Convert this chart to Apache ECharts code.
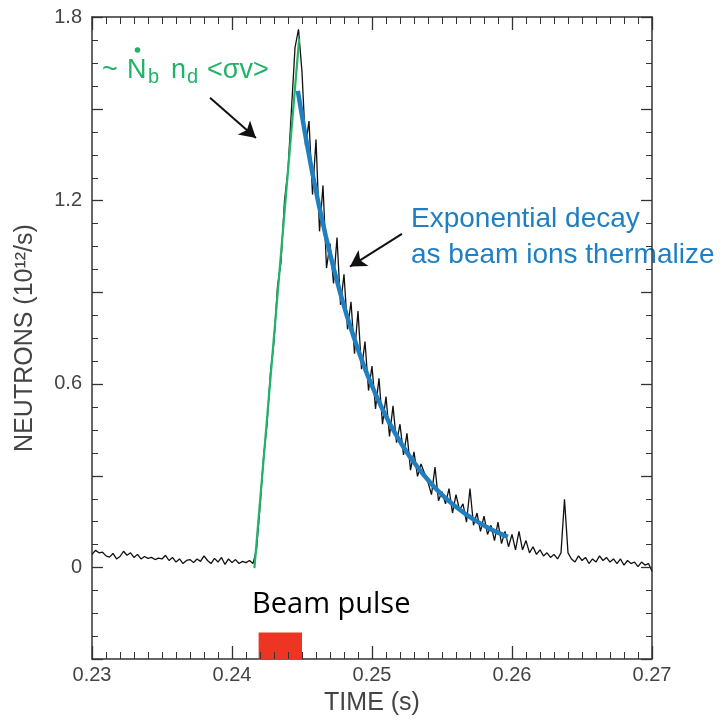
<!DOCTYPE html>
<html>
<head>
<meta charset="utf-8">
<script src="https://cdn.jsdelivr.net/npm/echarts@6/dist/echarts.min.js"></script>
<style>
html,body{margin:0;padding:0;background:#fff;}
#chart{width:726px;height:721px;}
</style>
</head>
<body>
<div id="chart"></div>
<script>
// ---- data ----
const sampleStart = 0.23;
const sampleStep = 0.00025;
const neutronRate = [
  0.045,0.058,0.050,0.052,0.040,0.036,0.048,0.030,0.038,0.055,
  0.042,0.050,0.035,0.045,0.030,0.038,0.032,0.035,0.028,0.033,
  0.030,0.042,0.025,0.035,0.020,0.030,0.015,0.025,0.028,0.018,
  0.030,0.022,0.040,0.025,0.015,0.032,0.020,0.035,0.012,0.030,
  0.018,0.028,0.015,0.022,0.018,0.025,0.015,0.06,0.20,0.36,
  0.47,0.64,0.74,0.92,1.00,1.20,1.30,1.50,1.70,1.76,
  1.62,1.38,1.46,1.22,1.40,1.10,1.25,0.98,1.06,0.93,
  1.08,0.86,0.96,0.78,0.87,0.70,0.84,0.65,0.74,0.58,
  0.66,0.52,0.62,0.47,0.56,0.43,0.53,0.41,0.47,0.37,
  0.44,0.32,0.38,0.30,0.34,0.31,0.28,0.24,0.33,0.22,
  0.25,0.21,0.26,0.18,0.24,0.19,0.21,0.15,0.26,0.14,
  0.18,0.12,0.17,0.11,0.14,0.09,0.15,0.08,0.12,0.07,
  0.11,0.06,0.12,0.06,0.09,0.05,0.07,0.045,0.06,0.04,
  0.05,0.035,0.045,0.03,0.05,0.225,0.05,0.03,0.02,0.04,
  0.025,0.035,0.015,0.03,0.02,0.04,0.025,0.035,0.02,0.03,
  0.015,0.03,0.01,0.025,0.015,0.02,0.005,0.02,0.01,0.015,
  -0.01
];
const riseTime = [0.2416, 0.2448];
const riseValue = [0, 1.73];
const decayTime = [
  0.2447,0.2452,0.2457,0.2462,0.2467,0.2472,0.2477,0.2482,0.2487,0.2492,
  0.2497,0.2502,0.2507,0.2512,0.2517,0.2522,0.2527,0.2532,0.2537,0.2542,
  0.2547,0.2552,0.2557,0.2562,0.2567,0.2572,0.2577,0.2582,0.2587,0.2592,0.2597
];
const decayValue = [
  1.559,1.424,1.300,1.187,1.084,0.990,0.904,0.825,0.754,0.688,
  0.628,0.574,0.524,0.478,0.437,0.399,0.364,0.333,0.304,0.277,
  0.253,0.231,0.211,0.193,0.176,0.161,0.147,0.134,0.122,0.112,0.102
];
const beamPulse = { start: 0.2419, end: 0.2450, low: -0.30, high: -0.21 };
const xTicks = { min: 0.23, max: 0.27, step: 0.01, minorSplit: 10 };
const yTicks = { min: -0.3, max: 1.8, step: 0.3, minorSplit: 4 };

// ---- build ----
const measured = neutronRate.map((v, i) => [+(sampleStart + i * sampleStep).toFixed(5), v]);
const rise = riseTime.map((t, i) => [t, riseValue[i]]);
const decay = decayTime.map((t, i) => [t, decayValue[i]]);

const FONT = '"Liberation Sans", Arial, Helvetica, sans-serif';
const AXIS_COLOR = '#333';
const TEXT_COLOR = '#444';
const GREEN = '#22b26a';
const BLUE = '#1f7fc1';
const GRID = { left: 92, right: 74, top: 17, bottom: 61 };

function xAxisCfg(pos, showLabels) {
  return {
    gridIndex: 0, type: 'value', position: pos, min: xTicks.min, max: xTicks.max, interval: xTicks.step,
    name: showLabels ? 'TIME (s)' : '', nameLocation: 'middle', nameGap: 32,
    nameTextStyle: { fontFamily: FONT, fontSize: 25, color: TEXT_COLOR },
    axisLine: { show: true, onZero: false, lineStyle: { color: AXIS_COLOR, width: 1.5 } },
    axisTick: { show: false },
    minorTick: { show: false },
    axisLabel: { show: showLabels, margin: 6, fontFamily: FONT, fontSize: 20, color: TEXT_COLOR,
      formatter: v => v.toFixed(2) },
    splitLine: { show: false }, minorSplitLine: { show: false }
  };
}
function yAxisCfg(pos, showLabels) {
  return {
    gridIndex: 0, type: 'value', position: pos, min: yTicks.min, max: yTicks.max, interval: yTicks.step,
    name: showLabels ? 'NEUTRONS (10¹²/s)' : '', nameLocation: 'middle', nameGap: 54, nameRotate: 90,
    nameTextStyle: { fontFamily: FONT, fontSize: 25, color: TEXT_COLOR },
    axisLine: { show: true, onZero: false, lineStyle: { color: AXIS_COLOR, width: 1.5 } },
    axisTick: { show: false },
    minorTick: { show: false },
    axisLabel: { show: showLabels, margin: 10, fontFamily: FONT, fontSize: 20, color: TEXT_COLOR,
      formatter: v => {
        const k = Math.round(v * 10);
        if (k % 6 !== 0) return '';
        return k === 0 ? '0' : (k / 10).toFixed(1);
      } },
    splitLine: { show: false }, minorSplitLine: { show: false }
  };
}
const dataX = { gridIndex: 1, type: 'value', min: xTicks.min, max: xTicks.max, show: false };
const dataY = { gridIndex: 1, type: 'value', min: yTicks.min, max: yTicks.max, show: false };

const annotations = [
  { type: 'text', left: 102, top: 57, style: { text: '~', font: '27px ' + FONT, fill: GREEN } },
  { type: 'text', left: 127, top: 57, style: { text: 'N', font: '27px ' + FONT, fill: GREEN } },
  { type: 'circle', shape: { cx: 137.5, cy: 50, r: 2.8 }, style: { fill: GREEN } },
  { type: 'text', left: 148, top: 67, style: { text: 'b', font: '20px ' + FONT, fill: GREEN } },
  { type: 'text', left: 171, top: 57, style: { text: 'n', font: '27px ' + FONT, fill: GREEN } },
  { type: 'text', left: 187, top: 67, style: { text: 'd', font: '20px ' + FONT, fill: GREEN } },
  { type: 'text', left: 207, top: 57, style: { text: '<σv>', font: '27px ' + FONT, fill: GREEN } },
  { type: 'text', left: 411, top: 205, style: { text: 'Exponential decay', font: '28px ' + FONT, fill: BLUE } },
  { type: 'text', left: 411, top: 241, style: { text: 'as beam ions thermalize', font: '28px ' + FONT, fill: BLUE } },
  { type: 'text', left: 252, top: 590, style: { text: 'Beam pulse', font: '29px "Open Sans", "Noto Sans", sans-serif', fill: '#000' } }
];

const chart = echarts.init(document.getElementById('chart'));
chart.setOption({
  animation: false,
  grid: [Object.assign({}, GRID), Object.assign({}, GRID)],
  xAxis: [xAxisCfg('bottom', true), xAxisCfg('top', false), dataX],
  yAxis: [yAxisCfg('left', true), yAxisCfg('right', false), dataY],
  series: [
    {
      type: 'line', name: 'measured', data: measured, xAxisIndex: 2, yAxisIndex: 2,
      showSymbol: false, symbol: 'none', lineStyle: { color: '#111', width: 1.3 },
      markArea: {
        silent: true,
        itemStyle: { color: '#ee3524', opacity: 1 },
        data: [[{ coord: [beamPulse.start, beamPulse.low] }, { coord: [beamPulse.end, beamPulse.high] }]]
      },
      markLine: {
        silent: true, symbol: ['none', 'arrow'], symbolSize: [14, 16],
        label: { show: false },
        lineStyle: { color: '#111', width: 2, type: 'solid' },
        data: [
          [{ coord: [0.23843, 1.536] }, { coord: [0.24171, 1.405] }],
          [{ coord: [0.25214, 1.092] }, { coord: [0.24843, 0.985] }]
        ]
      }
    },
    {
      type: 'line', name: 'rise', data: rise, xAxisIndex: 2, yAxisIndex: 2, showSymbol: false, symbol: 'none',
      lineStyle: { color: GREEN, width: 2.2 }
    },
    {
      type: 'line', name: 'decay', data: decay, xAxisIndex: 2, yAxisIndex: 2, showSymbol: false, symbol: 'none',
      lineStyle: { color: BLUE, width: 4.5 }
    }
  ],
  graphic: annotations
});

// Inward tick marks on all four sides, placed through the axis scales.
(function drawTicks() {
  const px = v => chart.convertToPixel({ xAxisIndex: 0 }, v);
  const py = v => chart.convertToPixel({ yAxisIndex: 0 }, v);
  const xl = px(xTicks.min), xr = px(xTicks.max), yb = py(yTicks.min), yt = py(yTicks.max);
  const ticks = [];
  const seg = (x1, y1, x2, y2, w) => ticks.push({ type: 'line', silent: true, z: 50,
    shape: { x1, y1, x2, y2 }, style: { stroke: AXIS_COLOR, lineWidth: w } });
  const nx = Math.round((xTicks.max - xTicks.min) / xTicks.step) * xTicks.minorSplit;
  for (let i = 0; i <= nx; i++) {
    const x = Math.round(px(xTicks.min + i * xTicks.step / xTicks.minorSplit)) + 0.5;
    const major = i % xTicks.minorSplit === 0;
    const len = major ? 13 : 7;
    seg(x, yb, x, yb - len, major ? 1.3 : 1);
    seg(x, yt, x, yt + len, major ? 1.3 : 1);
  }
  const ny = Math.round((yTicks.max - yTicks.min) / yTicks.step) * yTicks.minorSplit;
  for (let i = 0; i <= ny; i++) {
    const y = Math.round(py(yTicks.min + i * yTicks.step / yTicks.minorSplit)) + 0.5;
    const major = i % yTicks.minorSplit === 0;
    const len = major ? 11 : 6;
    seg(xl, y, xl + len, y, major ? 1.3 : 1);
    seg(xr, y, xr - len, y, major ? 1.3 : 1);
  }
  chart.setOption({ graphic: annotations.concat(ticks) });
})();
</script>
</body>
</html>
